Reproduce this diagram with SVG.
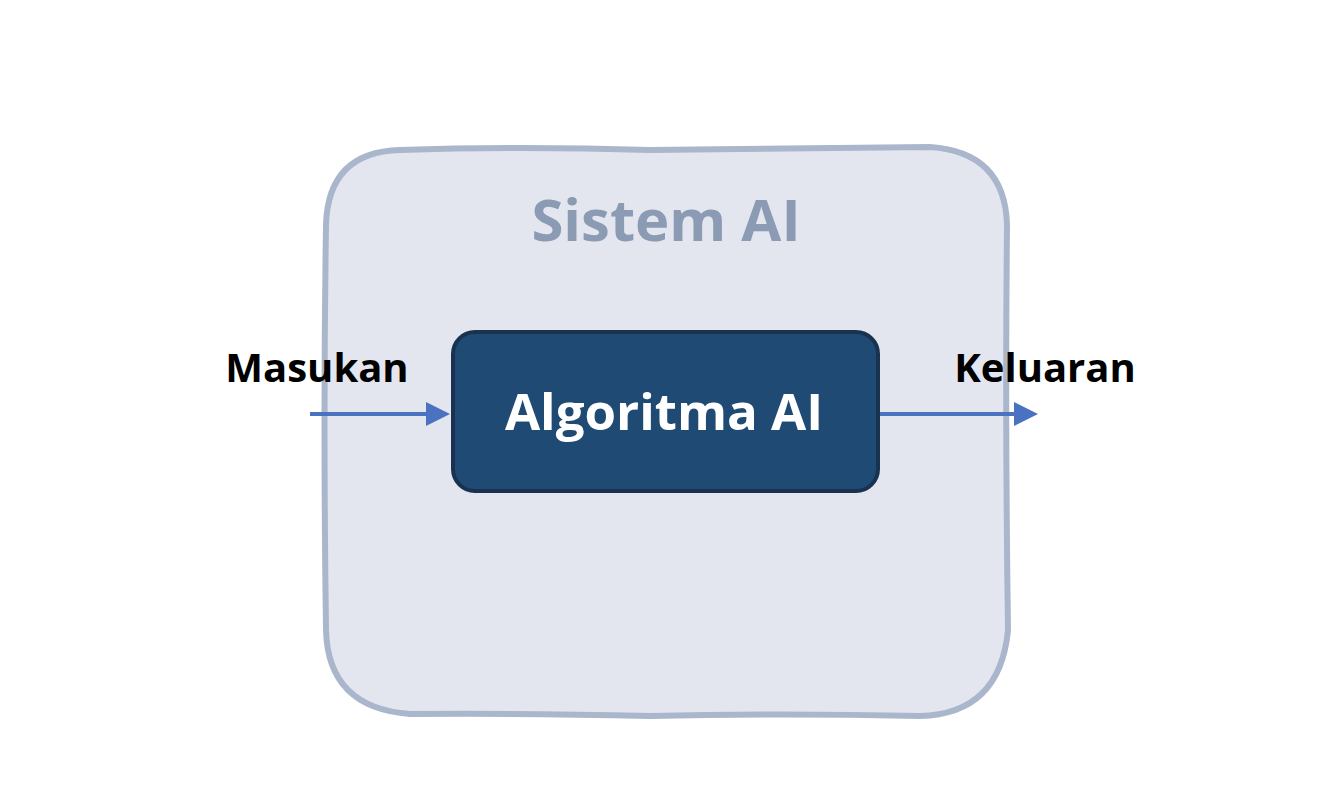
<svg xmlns="http://www.w3.org/2000/svg" width="1340" height="800" viewBox="0 0 1340 800">
<style>
.lbl{font-family:"Open Sans","Liberation Sans",sans-serif;font-weight:700;}
.conn{stroke:#4a72c0;stroke-width:4;fill:none;}
</style>
<defs>
<marker id="ah" markerWidth="6" markerHeight="6" refX="5" refY="3" orient="auto" markerUnits="strokeWidth">
<path d="M0,0 L6,3 L0,6 Z" fill="#4a72c0"/>
</marker>
</defs>
<rect width="1340" height="800" fill="#ffffff"/>
<g id="sistem-ai">
<path d="M400,150 Q520,146 650,150 Q780,148 930,147 Q1005,152 1007,225 Q1005,420 1008,630 Q1000,714 920,716 Q780,713 650,716 Q520,713 410,714 Q328,708 326,630 Q323,420 326,225 Q328,152 400,150 Z" fill="#e3e6ee" stroke="#a9b6cc" stroke-width="6"/>
<text class="lbl" x="666" y="241" font-size="58" fill="#8a9bb3" text-anchor="middle">Sistem AI</text>
</g>
<g id="algoritma-ai">
<rect x="453" y="332" width="425" height="159" rx="22" fill="#1f4a73" stroke="#18324f" stroke-width="4"/>
<text class="lbl" x="664" y="430" font-size="51" fill="#ffffff" text-anchor="middle">Algoritma AI</text>
</g>
<g id="masukan">
<text class="lbl" x="317" y="382" font-size="40" fill="#000000" text-anchor="middle">Masukan</text>
</g>
<g id="keluaran">
<text class="lbl" x="1045" y="382" font-size="40" fill="#000000" text-anchor="middle">Keluaran</text>
</g>
<g id="connectors">
<line class="conn" x1="310" y1="414" x2="446" y2="414" marker-end="url(#ah)"/>
<line class="conn" x1="880" y1="414" x2="1034" y2="414" marker-end="url(#ah)"/>
</g>
</svg>
